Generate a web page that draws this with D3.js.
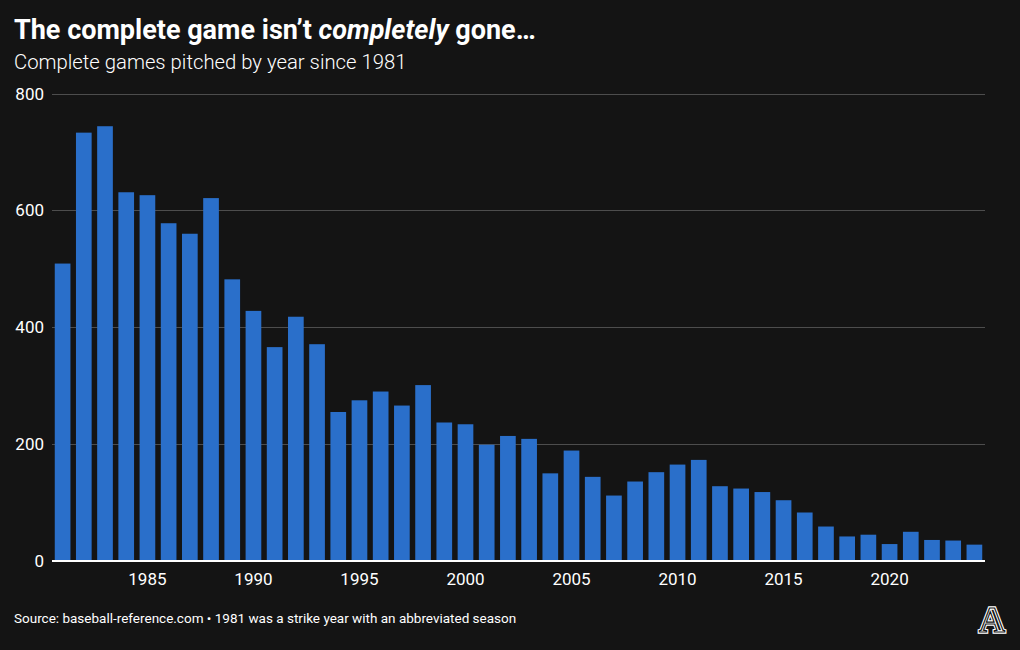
<!DOCTYPE html>
<html>
<head>
<meta charset="utf-8">
<script src="https://cdn.jsdelivr.net/npm/d3@7"></script>
<style>
  html, body { margin: 0; padding: 0; background: #141414; }
  svg { display: block; }
</style>
</head>
<body>
<svg id="chart" width="1020" height="650"></svg>
<script>
const years = d3.range(1981, 2025);
const completeGames = [
  509, 733, 744, 631, 626, 578, 560, 621, 482, 428,
  366, 418, 371, 255, 275, 290, 266, 301, 237, 234,
  199, 214, 209, 150, 189, 144, 112, 136, 152, 165,
  173, 128, 124, 118, 104, 83, 59, 42, 45, 29,
  50, 36, 35, 28
];
const yTicks = [0, 200, 400, 600, 800];
const xTickYears = [1985, 1990, 1995, 2000, 2005, 2010, 2015, 2020];

const titleText = ["The complete game isn\u2019t ", "completely", " gone\u2026"];
const subtitleText = "Complete games pitched by year since 1981";
const sourceText = "Source: baseball-reference.com \u2022 1981 was a strike year with an abbreviated season";

const svg = d3.select("#chart");
svg.append("rect").attr("width", 1020).attr("height", 650).attr("fill", "#141414");

const x = d3.scaleBand().domain(years).range([52, 985]).paddingInner(0.26).paddingOuter(0.13);
const y = d3.scaleLinear().domain([0, 800]).range([561, 93.5]);

// Title
const title = svg.append("text")
  .attr("x", 14).attr("y", 39)
  .attr("fill", "#ffffff")
  .attr("font-family", "'Roboto', sans-serif")
  .attr("font-weight", 700)
  .attr("font-size", 27);
title.append("tspan").text(titleText[0]);
title.append("tspan").attr("font-style", "italic").text(titleText[1]);
title.append("tspan").text(titleText[2]);

// Subtitle
svg.append("text")
  .attr("x", 14).attr("y", 69)
  .attr("fill", "#ffffff")
  .attr("font-family", "'Roboto', sans-serif")
  .attr("font-weight", 300)
  .attr("font-size", 20.3)
  .text(subtitleText);

// Grid + y labels
const yAxis = svg.append("g");
yAxis.selectAll("line.grid").data(yTicks.filter(d => d > 0)).join("line")
  .attr("class", "grid")
  .attr("x1", 52).attr("x2", 985)
  .attr("y1", d => Math.round(y(d)) + 0.5).attr("y2", d => Math.round(y(d)) + 0.5)
  .attr("stroke", "#4d4d4d").attr("stroke-width", 1);
yAxis.selectAll("text").data(yTicks).join("text")
  .attr("x", 44).attr("y", d => y(d) + 6)
  .attr("text-anchor", "end")
  .attr("fill", "#ffffff")
  .attr("font-family", "'Roboto', sans-serif")
  .attr("font-weight", 400)
  .attr("font-size", 17)
  .text(d => d);

// Bars
svg.append("g").selectAll("rect").data(years).join("rect")
  .attr("x", d => x(d))
  .attr("width", x.bandwidth())
  .attr("y", (d, i) => y(completeGames[i]))
  .attr("height", (d, i) => y(0) - y(completeGames[i]))
  .attr("fill", "#2a6fca");

// Baseline
svg.append("line")
  .attr("x1", 52).attr("x2", 985)
  .attr("y1", y(0)).attr("y2", y(0))
  .attr("stroke", "#ffffff").attr("stroke-width", 2);

// X labels
svg.append("g").selectAll("text").data(xTickYears).join("text")
  .attr("x", d => x(d) + x.bandwidth() / 2)
  .attr("y", 585)
  .attr("text-anchor", "middle")
  .attr("fill", "#ffffff")
  .attr("font-family", "'Roboto', sans-serif")
  .attr("font-weight", 400)
  .attr("font-size", 17)
  .text(d => d);

// Footer
svg.append("text")
  .attr("x", 14).attr("y", 623)
  .attr("fill", "#ffffff")
  .attr("font-family", "'Roboto', sans-serif")
  .attr("font-weight", 400)
  .attr("font-size", 13.5)
  .text(sourceText);

// Logo
const logo = svg.append("g");
logo.append("text")
  .attr("x", 992).attr("y", 632)
  .attr("text-anchor", "middle")
  .attr("font-family", "'Liberation Serif', 'DejaVu Serif', serif")
  .attr("font-weight", 700)
  .attr("font-size", 36)
  .attr("fill", "none")
  .attr("stroke", "#ffffff")
  .attr("stroke-width", 3.4)
  .text("A");
logo.append("text")
  .attr("x", 992).attr("y", 632)
  .attr("text-anchor", "middle")
  .attr("font-family", "'Liberation Serif', 'DejaVu Serif', serif")
  .attr("font-weight", 700)
  .attr("font-size", 36)
  .attr("fill", "none")
  .attr("stroke", "#141414")
  .attr("stroke-width", 1.2)
  .text("A");
</script>
</body>
</html>
